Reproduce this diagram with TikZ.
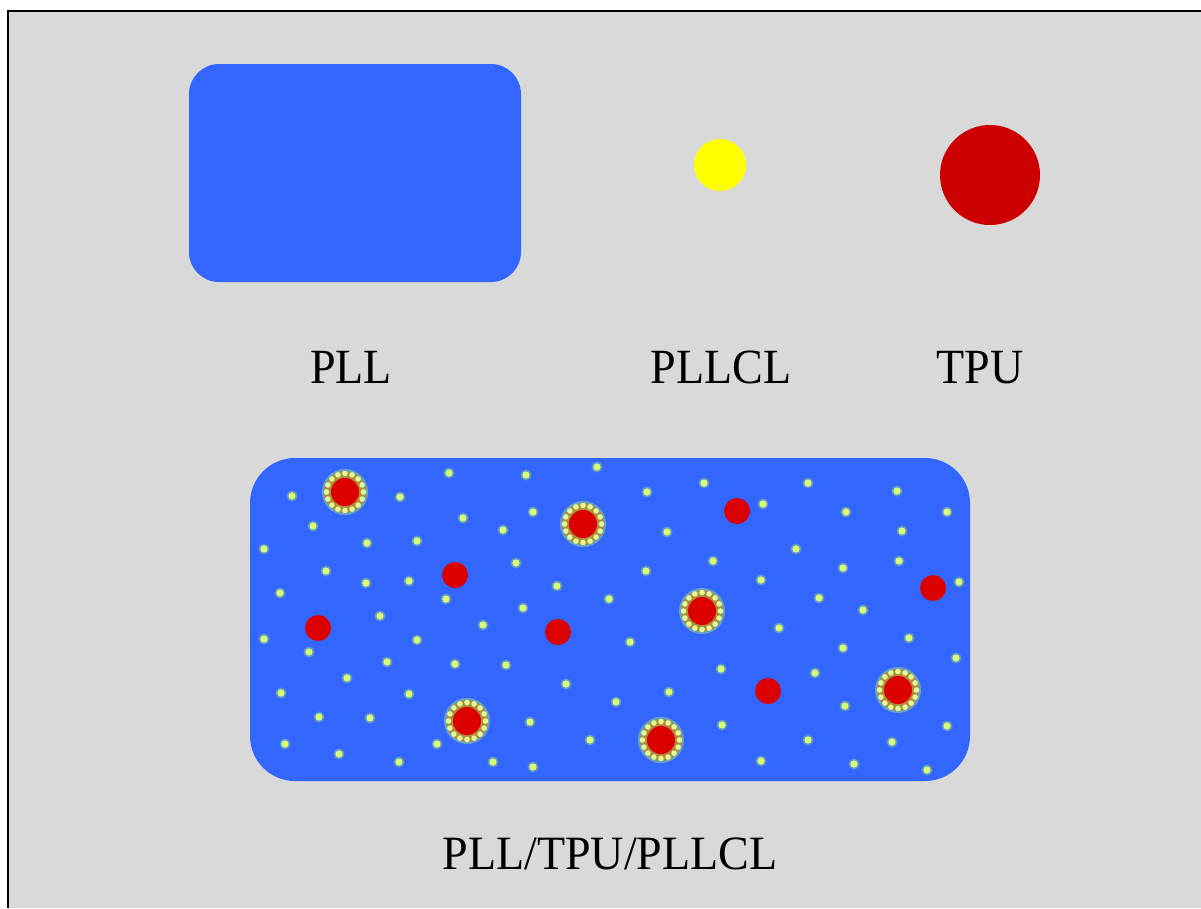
\documentclass[tikz,border=0pt]{standalone}
\usepackage{fontspec}
\setmainfont{Liberation Serif}
\usetikzlibrary{calc}
\definecolor{bg}{RGB}{217,217,217}
\definecolor{pllblue}{RGB}{51,102,255}
\definecolor{tpured}{RGB}{204,0,0}
\definecolor{dotred}{RGB}{220,0,0}
\definecolor{cl}{RGB}{255,255,0}
\definecolor{lime}{RGB}{214,255,120}
\definecolor{limeglow}{RGB}{150,200,140}
\definecolor{ringhalo}{RGB}{175,140,60}
\definecolor{ringdot}{RGB}{225,250,150}
\begin{document}
\begin{tikzpicture}[x=1pt,y=-1pt,
  matrixbox/.style={fill=pllblue,draw=none,inner sep=0pt},
  lbl/.style={font=\fontsize{46}{50}\selectfont,anchor=base,inner sep=0pt},
  gdot/.style={fill=lime},
  rdot/.style={fill=dotred}]
\useasboundingbox (0,0) rectangle (1201,908);
\fill[bg] (8,11) rectangle (1201,908);
\draw[line width=1.5pt] (1201,11) -- (8,11) -- (8,908);
% top row
\node[matrixbox,minimum width=332pt,minimum height=218pt,rounded corners=30pt] (pll) at (355,173) {};
\node[circle,fill=cl,inner sep=0pt,minimum size=52pt] (pllcl) at (720,165) {};
\node[circle,fill=tpured,inner sep=0pt,minimum size=100pt] (tpu) at (990,175) {};
\node[lbl] (lpll) at (351,383) {\scalebox{1}[1.07]{PLL}};
\node[lbl] (lpllcl) at (721,383) {\scalebox{1}[1.07]{PLLCL}};
\node[lbl] (ltpu) at (980,383) {\scalebox{1}[1.07]{TPU}};
% blend
\node[matrixbox,minimum width=720pt,minimum height=323pt,rounded corners=45pt] (blend) at (610,619.5) {};
\node[lbl] (lblend) at (610,869) {\scalebox{1}[1.04]{PLL/TPU/PLLCL}};
% small PLLCL dots
\foreach \x/\y in {292/496,400/497,449/473,463/518,313/526,367/543,417/541,264/549,326/571,366/583,409/581,280/593,446/599,380/616,
526/475,597/467,647/492,704/483,533/512,503/530,667/532,516/563,646/571,713/561,557/586,609/599,523/608,
808/483,763/504,897/491,846/512,947/512,902/531,796/549,843/568,899/561,761/580,819/598,863/610,959/582,
483/625,264/639,417/640,309/652,387/662,455/664,347/678,281/693,409/694,319/717,370/718,437/744,285/744,339/754,399/762,
630/642,506/665,721/669,566/684,669/692,616/702,530/722,722/725,590/740,493/762,533/767,
779/628,909/638,843/648,956/658,815/673,845/706,947/726,808/740,892/742,761/761,854/764,927/770}
{
  \fill[limeglow,opacity=0.5] (\x,\y) circle (5.5);
  \fill[gdot] (\x,\y) circle (3.6);
}
% plain TPU particles
\foreach \x/\y in {455/575,318/628,737/511,933/588,558/632,768/691}
  \fill[rdot] (\x,\y) circle (13);
% TPU particles coated with PLLCL
\foreach \x/\y in {345/492,583/524,702/611,467/721,661/740,898/690}
{
  \fill[limeglow,opacity=0.6] (\x,\y) circle (23);
  \fill[ringhalo] (\x,\y) circle (20.5);
  \fill[rdot] (\x,\y) circle (14);
  \foreach \a in {0,22.5,...,337.5}
    \fill[ringdot] ($(\x,\y)+(\a:18.5)$) circle (2.8);
}
\end{tikzpicture}
\end{document}
